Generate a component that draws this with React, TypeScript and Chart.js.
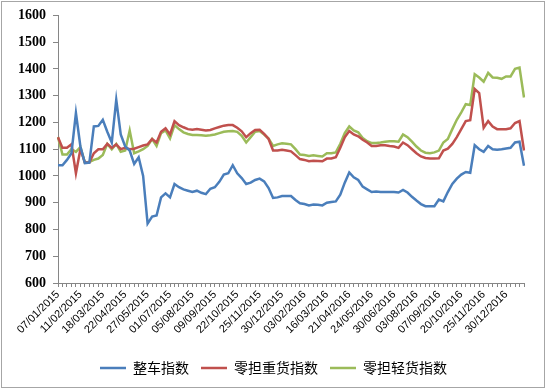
import React, { useEffect, useRef } from 'react';
import { Chart, registerables } from 'chart.js';

Chart.register(...registerables);

// Tick labels shown every 5 weeks on the category axis
const tickLabels = [
  '07/01/2015', '11/02/2015', '18/03/2015', '22/04/2015', '27/05/2015',
  '01/07/2015', '05/08/2015', '09/09/2015', '22/10/2015', '25/11/2015',
  '30/12/2015', '03/02/2016', '16/03/2016', '21/04/2016', '24/05/2016',
  '30/06/2016', '03/08/2016', '07/09/2016', '20/10/2016', '25/11/2016',
  '30/12/2016',
];
const labelEvery = 5;

const seriesNames = ['整车指数', '零担重货指数', '零担轻货指数'];

// 整车指数
const truckIndex = [
  1040, 1040, 1060, 1085, 1235, 1110, 1048, 1050, 1185, 1187,
  1210, 1165, 1125, 1285, 1155, 1110, 1095, 1045, 1070, 1000,
  822, 848, 852, 920, 935, 920, 970, 958, 950, 945,
  940, 945, 937, 932, 952, 958, 978, 1005, 1010, 1040,
  1010, 992, 970, 975, 985, 990, 980, 955, 918, 920,
  925, 925, 925, 910, 898, 895, 890, 893, 892, 890,
  900, 903, 905, 930, 975, 1013, 995, 985, 960, 950,
  940, 942, 940, 940, 940, 940, 938, 948, 938, 922,
  908, 895, 887, 887, 887, 912, 905, 940, 970, 990,
  1005, 1015, 1012, 1115, 1100, 1090, 1112, 1100, 1098, 1100,
  1103, 1105, 1125, 1128, 1038,
];

// 零担重货指数
const heavyIndex = [
  1145, 1105, 1105, 1118, 1010, 1100, 1050, 1050, 1085, 1100,
  1100, 1120, 1105, 1118, 1100, 1105, 1100, 1102, 1108, 1114,
  1118, 1138, 1125, 1165, 1178, 1155, 1205, 1190, 1182, 1175,
  1173, 1175, 1173, 1170, 1172, 1178, 1183, 1188, 1190, 1190,
  1180, 1167, 1145, 1160, 1172, 1173, 1157, 1138, 1095, 1095,
  1098, 1095, 1092, 1078, 1063, 1060, 1055, 1057, 1056, 1055,
  1065, 1065, 1070, 1105, 1145, 1168, 1155, 1148, 1135, 1125,
  1112, 1112, 1115, 1115, 1112, 1110, 1105, 1125, 1115, 1100,
  1085, 1073, 1067, 1065, 1065, 1066, 1095, 1102, 1120, 1145,
  1175, 1205, 1208, 1325, 1310, 1180, 1205, 1185, 1175, 1175,
  1175, 1178, 1198, 1205, 1095,
];

// 零担轻货指数
const lightIndex = [
  1145, 1080, 1080, 1100, 1090, 1108, 1050, 1052, 1060, 1065,
  1078, 1120, 1100, 1120, 1090, 1095, 1170, 1085, 1092, 1100,
  1112, 1138, 1112, 1160, 1170, 1140, 1190, 1175, 1163, 1157,
  1153, 1153, 1152, 1150, 1152, 1155, 1160, 1165, 1167, 1168,
  1165, 1150, 1125, 1145, 1165, 1168, 1155, 1140, 1112, 1118,
  1122, 1120, 1118, 1100, 1080, 1078, 1075, 1077, 1075, 1073,
  1085, 1085, 1088, 1120, 1160, 1185, 1170, 1163, 1142, 1130,
  1123, 1123, 1125, 1128, 1130, 1130, 1128, 1155, 1145, 1128,
  1110, 1095, 1087, 1085, 1088, 1095, 1125, 1138, 1175, 1210,
  1238, 1268, 1265, 1380, 1368, 1352, 1385, 1368, 1367, 1363,
  1372, 1372, 1400, 1405, 1293,
];

const yMin = 600;
const yMax = 1600;
const yStep = 100;

const colors = ['#4A7EBB', '#C0504D', '#9BBB59'];
const axisColor = '#868686';

const framePlugin = {
  id: 'frame',
  beforeDraw(chart: any) {
    const { ctx, width, height } = chart;
    ctx.save();
    ctx.fillStyle = '#ffffff';
    ctx.fillRect(0, 0, width, height);
    ctx.strokeStyle = '#a6a6a6';
    ctx.lineWidth = 1;
    ctx.strokeRect(1.5, 1.5, width - 4, height - 3);
    ctx.restore();
  },
};

export default function App() {
  const ref = useRef<HTMLCanvasElement>(null);

  useEffect(() => {
    document.body.style.margin = '0';
    const categories = truckIndex.map((_, i) =>
      i % labelEvery === 0 ? tickLabels[i / labelEvery] ?? '' : ''
    );
    const seriesData = [truckIndex, heavyIndex, lightIndex];
    const chart = new Chart(ref.current as HTMLCanvasElement, {
      type: 'line',
      data: {
        labels: categories,
        datasets: seriesData.map((d, k) => ({
          label: seriesNames[k],
          data: d,
          borderColor: colors[k],
          backgroundColor: colors[k],
          borderWidth: 2.5,
          pointRadius: 0,
          tension: 0,
          fill: false,
          yAxisID: 'y',
        })),
      },
      options: {
        responsive: false,
        animation: false,
        layout: { padding: { left: 0, right: 0, top: 12, bottom: 4 } },
        plugins: {
          tooltip: { enabled: false },
          legend: {
            position: 'bottom',
            labels: {
              usePointStyle: true,
              pointStyle: 'line',
              pointStyleWidth: 26,
              color: '#000',
              padding: 12,
              font: { size: 14, family: "'Noto Sans CJK SC', sans-serif" },
            },
          },
        },
        scales: {
          x: {
            type: 'category',
            offset: false,
            grid: { drawOnChartArea: false, drawTicks: true, tickLength: 4, color: axisColor },
            border: { color: axisColor, width: 1 },
            ticks: {
              autoSkip: false,
              maxRotation: 45,
              minRotation: 45,
              padding: 1,
              color: '#000',
              font: { size: 11, family: "'Liberation Sans', sans-serif" },
            },
            afterFit: (s: any) => { s.height = 66; },
          },
          y: {
            min: yMin,
            max: yMax,
            grid: { drawOnChartArea: false, drawTicks: true, tickLength: 5, color: axisColor },
            border: { color: axisColor, width: 1 },
            ticks: {
              stepSize: yStep,
              padding: 7,
              color: '#000',
              font: { size: 14, weight: 'bold', family: "'Liberation Serif', serif" },
              callback: (v: any) => String(v),
            },
            afterFit: (s: any) => { s.width = 58; },
          },
          yRight: {
            type: 'linear',
            position: 'right',
            display: true,
            grid: { display: false, drawTicks: false },
            border: { display: false },
            ticks: { display: false },
            afterFit: (s: any) => { s.width = 23; },
          },
        },
      },
      plugins: [framePlugin],
    } as any);
    return () => chart.destroy();
  }, []);

  return (
    <div style={{ width: 547, height: 389 }}>
      <canvas ref={ref} width={547} height={389} style={{ display: 'block' }} />
    </div>
  );
}
